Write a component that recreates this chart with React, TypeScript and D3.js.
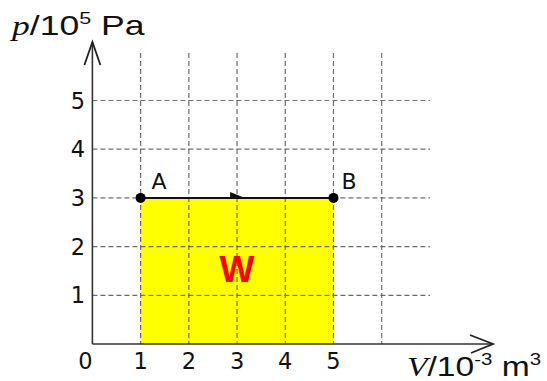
import React from "react";
import * as d3 from "d3";

// Isobaric expansion A -> B on a p–V diagram; shaded area is the work done.
const xTickValues = [0, 1, 2, 3, 4, 5];
const yTickValues = [1, 2, 3, 4, 5];
const xGridValues = [1, 2, 3, 4, 5, 6];
const yGridValues = [1, 2, 3, 4, 5];
const stateNames = ["A", "B"];
const stateVolumes = [1, 5];
const statePressures = [3, 3];
const workLabel = "W";

const W = 547;
const H = 381;

export default function App() {
  const x = d3.scaleLinear().domain([0, 6]).range([92.4, 381.7]);
  const y = d3.scaleLinear().domain([0, 5]).range([344, 100.5]);

  const axisColor = "#333";
  const gridColor = "#555";
  const tickFont = "'DejaVu Sans', Verdana, sans-serif";
  const titleFont = "'Liberation Sans', Arial, sans-serif";
  const serif = "'Liberation Serif', 'Times New Roman', serif";

  const ax = x(stateVolumes[0]);
  const bx = x(stateVolumes[1]);
  const py = y(statePressures[0]);
  const midX = (ax + bx) / 2;

  const path = d3.path();
  path.moveTo(ax, py);
  path.lineTo(bx, py);

  return (
    <svg
      width={W}
      height={H}
      style={{ position: "absolute", left: 0, top: 0, background: "#fff" }}
    >
      {/* work area */}
      <rect
        x={ax}
        y={py}
        width={bx - ax}
        height={y(0) - py}
        fill="#ffff00"
      />

      {/* grid */}
      {yGridValues.map((v) => (
        <line
          key={"gy" + v}
          x1={x(0)}
          x2={430}
          y1={y(v)}
          y2={y(v)}
          stroke={gridColor}
          strokeWidth={1.2}
          strokeDasharray="5,3"
          opacity={0.85}
        />
      ))}
      {xGridValues.map((v) => (
        <line
          key={"gx" + v}
          x1={x(v)}
          x2={x(v)}
          y1={53}
          y2={y(0)}
          stroke={gridColor}
          strokeWidth={1.2}
          strokeDasharray="5,3"
          opacity={0.85}
        />
      ))}

      {/* axes */}
      <line x1={x(0)} x2={x(0)} y1={y(0)} y2={42} stroke={axisColor} strokeWidth={1.6} />
      <line x1={x(0)} x2={493} y1={y(0)} y2={y(0)} stroke={axisColor} strokeWidth={1.6} />
      <polyline
        points={`${x(0) - 8},65 ${x(0)},42 ${x(0) + 8},65`}
        fill="none"
        stroke="#222"
        strokeWidth={1.8}
      />
      <polyline
        points={`470,${y(0) - 9} 493,${y(0)} 471,${y(0) + 9}`}
        fill="none"
        stroke="#222"
        strokeWidth={1.8}
      />

      {/* process line */}
      <path d={path.toString()} stroke="#111" strokeWidth={2} fill="none" />
      <path
        d={`M${midX - 7},${py - 6} L${midX + 8},${py} L${midX - 7},${py + 1}`}
        fill="#111"
      />
      {stateNames.map((n, i) => (
        <circle
          key={"pt" + n}
          cx={x(stateVolumes[i])}
          cy={y(statePressures[i])}
          r={5}
          fill="#000"
        />
      ))}
      {stateNames.map((n, i) => (
        <text
          key={"lb" + n}
          x={x(stateVolumes[i]) + (i === 0 ? 11 : 8)}
          y={y(statePressures[i]) - 9}
          fontFamily={tickFont}
          fontSize={22}
          fill="#111"
        >
          {n}
        </text>
      ))}

      {/* tick labels */}
      {xTickValues.map((v) => (
        <text
          key={"xt" + v}
          x={v === 0 ? x(v) - 7 : x(v)}
          y={369}
          textAnchor="middle"
          fontFamily={tickFont}
          fontSize={22.5}
          fill="#111"
        >
          {v}
        </text>
      ))}
      {yTickValues.map((v) => (
        <text
          key={"yt" + v}
          x={85}
          y={y(v) + 8}
          textAnchor="end"
          fontFamily={tickFont}
          fontSize={22.5}
          fill="#111"
        >
          {v}
        </text>
      ))}

      {/* work label */}
      <text
        x={(ax + bx) / 2}
        y={282}
        textAnchor="middle"
        fontFamily={titleFont}
        fontWeight="bold"
        fontSize={37}
        fill="#ff0000"
      >
        {workLabel}
      </text>

      {/* axis titles */}
      <text
        transform="translate(12,35) scale(1.27,1)"
        fontFamily={titleFont}
        fontSize={28}
        fill="#111"
      >
        <tspan fontFamily={serif} fontStyle="italic">
          p
        </tspan>
        <tspan>/10</tspan>
        <tspan fontSize={17} dy={-11}>5</tspan>
        <tspan dy={11}> Pa</tspan>
      </text>
      <text
        transform="translate(407,376) scale(1.2,1)"
        fontFamily={titleFont}
        fontSize={28}
        fill="#111"
      >
        <tspan fontFamily={serif} fontStyle="italic">
          V
        </tspan>
        <tspan>/10</tspan>
        <tspan fontSize={17} dy={-11}>-3</tspan>
        <tspan dy={11}> m</tspan>
        <tspan fontSize={17} dy={-11}>3</tspan>
      </text>
    </svg>
  );
}
